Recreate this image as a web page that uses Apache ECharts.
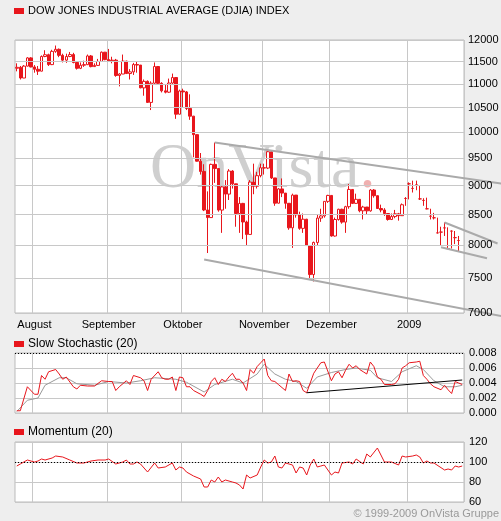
<!DOCTYPE html>
<html><head><meta charset="utf-8">
<script src="https://cdn.jsdelivr.net/npm/echarts@6/dist/echarts.min.js"></script>
<style>html,body{margin:0;padding:0;background:#eeeeee}#c{width:501px;height:521px}</style>
</head><body><div id="c"></div>
<script>
// trading days 2008-07-25 .. 2009-01-26
const holidays = ['2008-09-01','2008-11-27','2008-12-25','2009-01-01','2009-01-19'];
const dates = [];
(function(){let d=new Date(Date.UTC(2008,6,25));const end=new Date(Date.UTC(2009,0,26));
while(d<=end){const s=d.toISOString().slice(0,10),w=d.getUTCDay();if(w>0&&w<6&&holidays.indexOf(s)<0)dates.push(s);d=new Date(d.getTime()+864e5);}})();
const monthLabels = {'08':'August','09':'September','10':'Oktober','11':'November','12':'Dezember','01':'2009'};

const opens = [11349,11370,11132,11397,11583,
11378,11326,11284,11615,11656,11431,11734,11782,11642,11532,11615,11659,11479,11348,11417,11430,11628,11386,11413,11502,11715,
11544,11516,11532,11188,11220,11510,11231,11268,11433,11421,10918,11059,10609,11019,11388,11016,10854,10825,11022,11143,10365,
10851,10831,10483,10325,9955,9447,9258,8579,8451,9387,9310,8577,8979,8852,9265,9033,8519,8691,8378,8175,9065,8990,9180,
9325,9319,9625,9139,8695,8943,8870,8693,8282,8835,8497,8273,8424,7997,7552,8046,8443,8479,8726,
8829,8149,8419,8591,8376,8635,8934,8691,8761,8565,8629,8564,8924,8824,8604,8579,8519,8419,8468,8515,8483,
8776,9034,8952,9015,8769,8742,8599,8474,8448,8200,8212,8281,7949,8228,8123,8077];
const closes = [11370,11132,11397,11583,11378,
11326,11284,11615,11656,11431,11734,11782,11642,11532,11615,11659,11479,11348,11417,11430,11628,11386,11413,11502,11715,11544,
11516,11532,11188,11220,11510,11231,11268,11433,11421,10918,11059,10609,11019,11388,11016,10854,10825,11022,11143,10365,10851,
10831,10483,10325,9955,9447,9258,8579,8451,9387,9310,8577,8979,8852,9265,9033,8519,8691,8378,8175,9065,8990,9180,9325,
9319,9625,9139,8695,8943,8870,8693,8282,8835,8497,8273,8424,7997,7552,8046,8443,8479,8726,8829,
8149,8419,8591,8376,8635,8934,8691,8761,8565,8629,8564,8924,8824,8604,8579,8519,8419,8468,8515,8483,8668,8776,
9034,8952,9015,8769,8742,8599,8474,8448,8200,8212,8281,7949,8228,8123,8077,8116];
const highs = [11460,11400,11420,11600,11600,
11420,11400,11640,11760,11680,11770,11870,11800,11680,11680,11720,11700,11500,11480,11520,11660,11650,11460,11560,11730,11720,
11790,11610,11560,11240,11660,11520,11330,11470,11490,11420,11100,11080,11060,11480,11400,11040,10990,11120,11230,11140,10880,
10900,10850,10780,10330,9960,9600,9390,8900,9400,9800,9320,9000,9100,9300,9280,9030,8800,8700,8400,9100,9400,9250,9400,
9400,9660,9600,9140,8960,9130,8870,8690,8860,8830,8550,8520,8430,8000,8060,8500,8600,8730,8840,
8830,8450,8600,8600,8650,9030,8940,8860,8760,8650,8630,8940,8940,8820,8670,8610,8520,8520,8580,8530,8690,8800,
9060,9090,9090,9010,8780,8790,8600,8530,8450,8300,8370,8290,8240,8230,8150,8250];
const lows = [11280,11100,11130,11390,11370,
11250,11200,11280,11600,11400,11420,11700,11600,11480,11470,11600,11460,11320,11330,11380,11420,11370,11380,11400,11500,11530,
11500,11460,11160,10950,11220,11220,11100,11200,11250,10910,10750,10600,10450,11000,11000,10820,10800,10810,10980,10270,10360,
10500,10450,10250,9520,9440,9200,8560,7880,8450,9050,8550,8200,8600,8750,8950,8300,8200,8100,8000,8170,8850,8950,9150,
9200,9300,9120,8650,8690,8800,8600,8250,7960,8450,8250,8200,7990,7500,7450,8000,8380,8450,8700,
8140,8140,8400,8350,8200,8600,8680,8700,8540,8420,8500,8550,8790,8600,8540,8480,8400,8410,8440,8400,8480,8650,
8760,8880,8920,8750,8650,8590,8420,8420,8190,7990,8150,7940,7950,8020,7910,8000];
const priceTicks = [7000,7500,8000,8500,9000,9500,10000,10500,11000,11500,12000];

const stochKDays = [0,1,3,5,6,7,8,9,11,12,13,14,16,17,18,20,22,24,26,27,28,29,31,32,33,35,36,37,38,40,41,42,43,44,45,46,47,48,49,50,52,53,54,55,56,57,58,59,60,61,62,63,64,65,66,67,68,69,70,71,72,73,74,76,77,78,79,80,81,82,83,84,85,86,87,89,90,91,92,93,94,95,96,97,98,99,100,101,102,103,104,106,107,108,109,110,111,113,114,115,116,117,118,120,121,122,123,124,125,126];
const stochK = [0.0003,0.0003,0.0035,0.0025,0.0025,0.005,0.0045,0.0055,0.0058,0.0052,0.0045,0.0048,0.0035,0.0032,0.0037,0.0036,0.0036,0.0043,0.0042,0.0042,0.003,0.0035,0.0043,0.0038,0.005,0.0047,0.0043,0.003,0.0045,0.0055,0.0047,0.0045,0.0045,0.0048,0.003,0.0048,0.0047,0.0035,0.0035,0.003,0.0025,0.0022,0.003,0.0042,0.0047,0.0038,0.0045,0.0042,0.0048,0.0053,0.0045,0.0045,0.004,0.003,0.0058,0.0053,0.0062,0.0067,0.0072,0.005,0.0043,0.0042,0.0038,0.003,0.0052,0.0042,0.0043,0.0042,0.003,0.0027,0.004,0.0053,0.006,0.0067,0.0068,0.0043,0.0052,0.0055,0.0047,0.0057,0.0065,0.006,0.0063,0.0058,0.0055,0.0052,0.0068,0.0062,0.0048,0.0045,0.0038,0.0038,0.0039,0.0045,0.006,0.0063,0.0067,0.0068,0.0069,0.005,0.0045,0.0039,0.0035,0.0031,0.0037,0.0031,0.0026,0.0042,0.004,0.0038];
const stochDDays = [0,3,6,8,12,14,17,22,26,31,35,39,45,48,53,56,61,64,68,70,73,76,79,82,85,89,93,96,100,102,106,109,113,115,118,121,124,126];
const stochD = [0.0002,0.0017,0.002,0.0037,0.0047,0.0047,0.0039,0.0037,0.0042,0.004,0.0043,0.0047,0.0045,0.0041,0.0028,0.0038,0.0045,0.004,0.0052,0.0065,0.0052,0.0045,0.0042,0.0033,0.0048,0.0054,0.0058,0.006,0.0057,0.0047,0.0042,0.0055,0.0063,0.0058,0.0043,0.0035,0.0035,0.0037];
const momDays = [0,1,3,5,6,7,8,10,11,13,15,17,19,21,23,25,26,28,30,31,32,33,34,35,37,39,40,42,44,45,46,47,48,50,52,53,54,55,56,57,58,59,61,62,63,64,65,66,68,69,70,71,72,73,74,75,76,78,79,80,81,82,83,84,85,86,87,89,90,91,92,94,95,96,98,99,100,102,104,106,108,109,110,112,113,114,115,116,117,118,121,122,123,124,125,126];
const mom = [96,98,102,100,101,103,102,104,106,105,102,99,99,101,102,102,103,98,100,102,98,98,100,98,90,99,94,95,99,92,95,94,90,86,83,75,75,82,80,85,80,82,80,79,77,73,87,84,87,95,102,99,100,106,95,94,99,97,89,95,94,87,97,103,95,96,97,87,90,89,99,100,98,103,98,108,105,114,100,100,97,106,105,106,107,105,99,101,99,99,92,93,92,96,95,96];

// trend channels: [dayIndex, price]
const channels = [
  [[55.5,9800],[137.6,9030]],
  [[53,7780],[137.6,6950]],
  [[121,8370],[136,8030]],
  [[120,7970],[132.7,7800]]
];
const stochTrend = [[82,0.0027],[126,0.0044]];

const RED = '#e8161c', GRID = '#c8c8c8', FONT = 'Liberation Sans';
const L = Math.log;
const candle = dates.map((d,i)=>[L(opens[i]),L(closes[i]),L(lows[i]),L(highs[i])]);
const isMonthStart = i => i>0 && dates[i].slice(5,7)!==dates[i-1].slice(5,7);
const pairs = (a,b)=>a.map((d,i)=>[d,b[i]]);

function xAx(gi, labels){
  return {type:'category', gridIndex:gi, data:dates, boundaryGap:true,
    axisLine:{show:false}, axisTick:{show:false},
    axisLabel:{show:labels, interval:(i)=>isMonthStart(i), formatter:v=>monthLabels[v.slice(5,7)],
      color:'#000', fontFamily:FONT, fontSize:11, margin:6},
    splitLine:{show:true, interval:(i)=>isMonthStart(i), lineStyle:{color:GRID,width:1}}};
}
const chart = echarts.init(document.getElementById('c'));
const gridBase = {left:15, right:37, show:true, backgroundColor:'#fff', borderColor:'#bbb', borderWidth:1};
chart.setOption({
  animation:false, backgroundColor:'#eeeeee',
  textStyle:{fontFamily:FONT},
  grid:[Object.assign({top:40,height:273},gridBase),Object.assign({top:353,height:60},gridBase),Object.assign({top:442,height:60},gridBase)],
  xAxis:[xAx(0,true),xAx(1,false),xAx(2,false)],
  yAxis:[
    {type:'value', gridIndex:0, min:L(7000)-1e-6, max:L(12000)+1e-6, position:'right', axisLabel:{show:false}, splitLine:{show:false}, axisLine:{show:false}, axisTick:{show:false}},
    {type:'value', gridIndex:1, min:0, max:0.008, interval:0.002, position:'right', axisLine:{show:false}, axisTick:{show:false},
      axisLabel:{formatter:v=>v.toFixed(3), color:'#000', fontSize:11, fontFamily:FONT, margin:5}, splitLine:{lineStyle:{color:GRID}}},
    {type:'value', gridIndex:2, min:60, max:120, interval:20, position:'right', axisLine:{show:false}, axisTick:{show:false},
      axisLabel:{color:'#000', fontSize:11, fontFamily:FONT, margin:5}, splitLine:{lineStyle:{color:GRID}}}
  ],
  series:[
    {type:'line', xAxisIndex:0, yAxisIndex:0, data:closes.map(L), symbol:'none', lineStyle:{opacity:0}, silent:true, z:1,
      markLine:{silent:true, symbol:'none', animation:false, precision:10, lineStyle:{color:GRID, type:'solid', width:1},
        label:{position:'end', formatter:'{b}', color:'#000', fontSize:11, fontFamily:FONT, distance:4},
        data:priceTicks.map(t=>({yAxis:L(t), name:String(t)}))}},
    {type:'candlestick', xAxisIndex:0, yAxisIndex:0, data:candle, barWidth:3, z:3,
      itemStyle:{color:'#fff', color0:RED, borderColor:RED, borderColor0:RED, borderWidth:1}},
    {type:'line', xAxisIndex:1, yAxisIndex:1, data:pairs(stochDDays,stochD), symbol:'none', lineStyle:{color:'#999',width:1}, z:3},
    {type:'line', xAxisIndex:1, yAxisIndex:1, data:pairs(stochKDays,stochK), symbol:'none', lineStyle:{color:RED,width:1}, z:4,
      markLine:{silent:true, symbol:'none', label:{show:false}, precision:10, data:[
        [{coord:stochTrend[0], lineStyle:{color:'#000',type:'solid',width:1}},{coord:stochTrend[1]}],
        [{yAxis:0.008, x:15, lineStyle:{color:'#000',type:[1,2],width:1}},{yAxis:0.008, x:464}]
      ]}},
    {type:'line', xAxisIndex:2, yAxisIndex:2, data:pairs(momDays,mom), symbol:'none', lineStyle:{color:RED,width:1}, z:4,
      markLine:{silent:true, symbol:'none', label:{show:false}, lineStyle:{color:'#000',type:[1,2],width:1}, data:[{yAxis:100}]}}
  ]
});
const px = (d,p)=>chart.convertToPixel({xAxisIndex:0,yAxisIndex:0},[d,L(p)]);
const g = [
  {type:'text', left:150, top:138, z:1, style:{rich:{a:{fontFamily:'Liberation Serif',fontSize:64,fill:'#cfcfcf'},b:{fontFamily:'Liberation Serif',fontSize:64,fill:'#f0b0b0'}}, text:'{a|OnVista}{b|.}'}},
  {type:'rect', shape:{x:14,y:8,width:10,height:6}, style:{fill:RED}},
  {type:'text', x:28, y:5, style:{text:'DOW JONES INDUSTRIAL AVERAGE (DJIA) INDEX', fontSize:11, fontFamily:FONT, fill:'#000'}},
  {type:'rect', shape:{x:14,y:341,width:10,height:6}, style:{fill:RED}},
  {type:'text', x:28, y:338, style:{text:'Slow Stochastic (20)', fontSize:12, fontFamily:FONT, fill:'#000'}},
  {type:'rect', shape:{x:14,y:429,width:10,height:6}, style:{fill:RED}},
  {type:'text', x:28, y:426, style:{text:'Momentum (20)', fontSize:12, fontFamily:FONT, fill:'#000'}},
  {type:'text', right:2, y:508, style:{text:'© 1999-2009 OnVista Gruppe', fontSize:11, fontFamily:FONT, fill:'#999'}}
];
channels.forEach(c=>{const a=px(c[0][0],c[0][1]), b=px(c[1][0],c[1][1]);
  g.push({type:'line', z:5, shape:{x1:a[0],y1:a[1],x2:b[0],y2:b[1]}, style:{stroke:'#aaa',lineWidth:2}});});
chart.setOption({graphic:g});
</script></body></html>
